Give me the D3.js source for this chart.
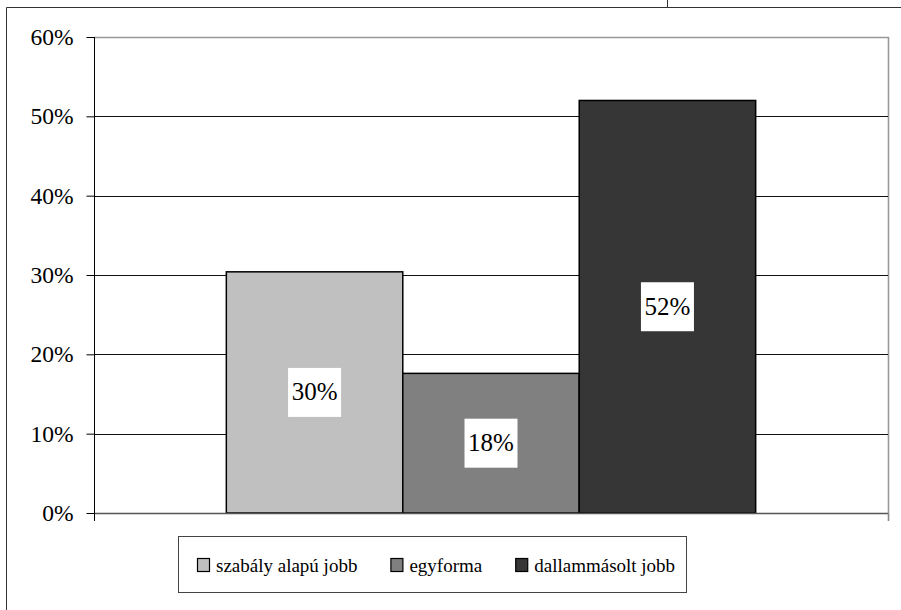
<!DOCTYPE html>
<html>
<head>
<meta charset="utf-8">
<script src="https://cdn.jsdelivr.net/npm/d3@7"></script>
</head>
<body style="margin:0">
<svg id="chart" width="901" height="610"></svg>
<script>
const series = ["szabály alapú jobb", "egyforma", "dallammásolt jobb"];
const values = [0.304, 0.176, 0.52];
const labels = ["30%", "18%", "52%"];
const colors = ["#c0c0c0", "#808080", "#363636"];
const yTicks = [0, 0.1, 0.2, 0.3, 0.4, 0.5, 0.6];

const fontName = "Liberation Serif";
const face = () => `'${fontName}'`;

const svg = d3.select("#chart");

// outer frame (cropped)
svg.append("path")
    .attr("d", "M6.5,610 V7.5 H901 M667.5,0 V7.5")
    .attr("fill", "none")
    .attr("stroke", "#333")
    .attr("stroke-width", 1);

const plot = { left: 94, right: 888, top: 37, bottom: 513 };
const gapWidth = 1.5;
const barW = (plot.right - plot.left) / (series.length + gapWidth);

const x = d3.scaleBand()
    .domain(series)
    .range([plot.left + barW * gapWidth / 2, plot.right - barW * gapWidth / 2])
    .padding(0);

const y = d3.scaleLinear()
    .domain([0, 0.6])
    .range([plot.bottom, plot.top]);

// plot border top/right
svg.append("path")
    .attr("d", `M${plot.left},${plot.top + 0.5} H${plot.right + 0.5} V${plot.bottom}`)
    .attr("fill", "none")
    .attr("stroke", "#999")
    .attr("stroke-width", 1.6);

// gridlines
svg.selectAll("line.grid")
    .data(yTicks.filter(t => t > 0 && t < 0.6))
    .join("line")
    .attr("class", "grid")
    .attr("x1", plot.left)
    .attr("x2", plot.right)
    .attr("y1", d => Math.round(y(d)) + 0.5)
    .attr("y2", d => Math.round(y(d)) + 0.5)
    .attr("stroke", "#111")
    .attr("stroke-width", 1);

// bars
svg.selectAll("rect.bar")
    .data(series)
    .join("rect")
    .attr("class", "bar")
    .attr("x", d => x(d))
    .attr("y", (d, i) => y(values[i]))
    .attr("width", x.bandwidth())
    .attr("height", (d, i) => y(0) - y(values[i]))
    .attr("fill", (d, i) => colors[i])
    .attr("stroke", "#000")
    .attr("stroke-width", 1.5);

// x axis line + end tick
svg.append("path")
    .attr("d", `M${plot.left},${plot.bottom + 0.5} H${plot.right}`)
    .attr("stroke", "#555")
    .attr("stroke-width", 1.5);
svg.append("path")
    .attr("d", `M${plot.right + 0.5},${plot.bottom} V${plot.bottom + 8}`)
    .attr("stroke", "#888")
    .attr("stroke-width", 1.6);

// y axis
const yAxis = svg.append("g")
    .attr("transform", `translate(${plot.left + 0.5},0)`)
    .call(d3.axisLeft(y)
        .tickValues(yTicks)
        .tickFormat(d3.format(".0%"))
        .tickSize(8)
        .tickPadding(13)
        .tickSizeOuter(0));
yAxis.attr("font-family", null).attr("font-size", null);
yAxis.select(".domain")
    .attr("d", `M0,${plot.top} V${plot.bottom + 8}`)
    .attr("stroke", "#000");
yAxis.selectAll(".tick line").attr("stroke", "#000");
yAxis.selectAll(".tick text")
    .style("font-family", face)
    .style("font-size", "23.5px");

// data labels
const cx = d => x(d) + x.bandwidth() / 2;
const cy = (d, i) => (y(0) + y(values[i])) / 2;
svg.selectAll("rect.lab")
    .data(series)
    .join("rect")
    .attr("class", "lab")
    .attr("x", d => cx(d) - 26.5)
    .attr("y", (d, i) => cy(d, i) - 24.5)
    .attr("width", 53)
    .attr("height", 49)
    .attr("fill", "#fff");
svg.selectAll("text.lab")
    .data(series)
    .join("text")
    .attr("class", "lab")
    .attr("x", cx)
    .attr("y", (d, i) => cy(d, i) + 8)
    .attr("text-anchor", "middle")
    .style("font-family", face)
    .style("font-size", "25px")
    .text((d, i) => labels[i]);

// legend
svg.append("rect")
    .attr("x", 178.5)
    .attr("y", 536.5)
    .attr("width", 508)
    .attr("height", 56)
    .attr("fill", "#fff")
    .attr("stroke", "#444")
    .attr("stroke-width", 1);

let lx = 197;
series.forEach((s, i) => {
    svg.append("rect")
        .attr("x", lx + 0.5)
        .attr("y", 558.5)
        .attr("width", 12)
        .attr("height", 13)
        .attr("fill", colors[i])
        .attr("stroke", "#000")
        .attr("stroke-width", 1.2);
    const t = svg.append("text")
        .attr("x", lx + 19)
        .attr("y", 572)
        .style("font-family", face)
        .style("font-size", "19px")
        .text(s);
    lx += 19 + t.node().getComputedTextLength() + 33;
});
</script>
</body>
</html>
